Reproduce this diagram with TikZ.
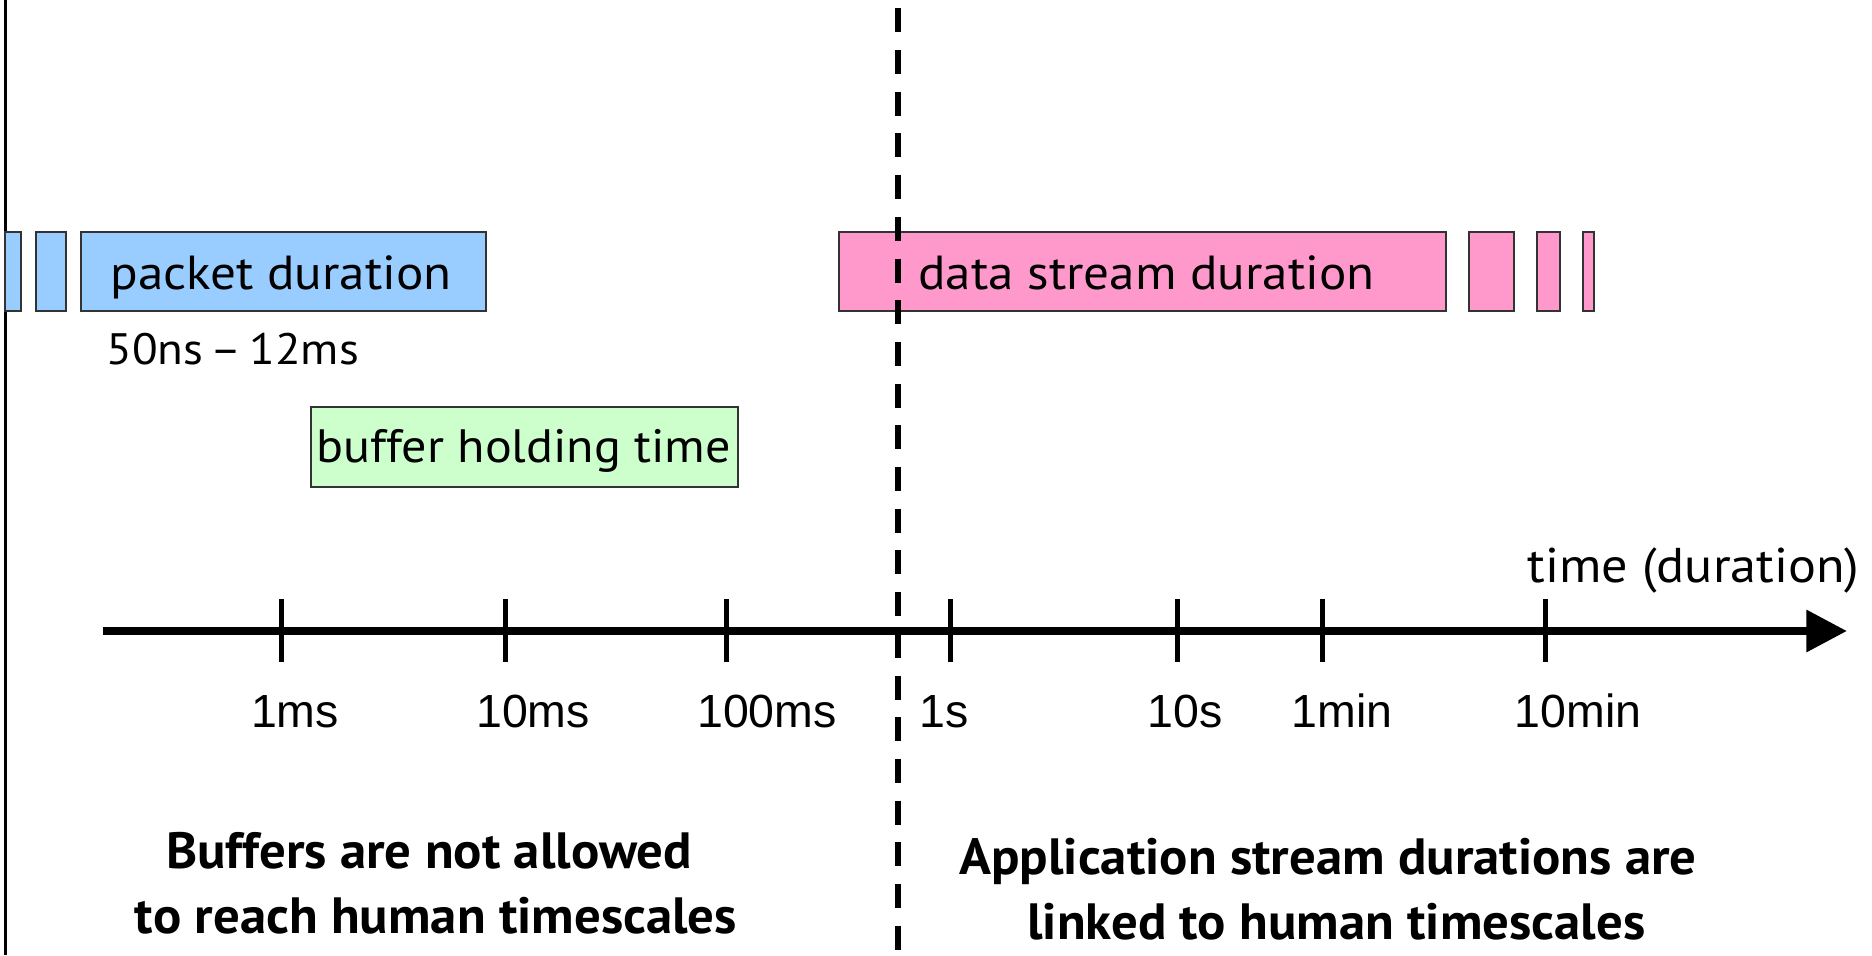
\documentclass[tikz,border=0pt]{standalone}
\usepackage{fontspec}
\setmainfont{PT Sans}[FakeStretch=1.07]
\newfontfamily\notefont{PT Sans}[FakeStretch=1.035]
\newfontfamily\tickfont{Liberation Sans}
\usetikzlibrary{arrows.meta,fit}
\definecolor{pktblue}{HTML}{99CCFF}
\definecolor{strpink}{HTML}{FF99CC}
\definecolor{bufgreen}{HTML}{CCFFCC}
\definecolor{edgegray}{HTML}{333333}
\begin{document}
\begin{tikzpicture}[x=0.5pt,y=-0.5pt,
  bar/.style={draw=edgegray, line width=1pt, inner sep=0pt},
  boxlbl/.style={inner sep=0pt, anchor=base west, font=\fontsize{23.9}{28}\selectfont},
  ticklbl/.style={inner sep=0pt, anchor=base, font=\tickfont\fontsize{23.25}{28}\selectfont},
  note/.style={inner sep=0pt, anchor=north, align=center, font=\notefont\bfseries\fontsize{25.5}{32.3}\selectfont},
  tickmark/.style={line width=2.5pt},
]
\useasboundingbox (0,0) rectangle (1872,955);

% left border rule
\coordinate (rtop) at (5,0);
\coordinate (rbot) at (5,955);
\draw[line width=1.5pt] (rtop) -- (rbot);

% packet bars
\node[bar, fill=pktblue, fit={(5,232) (21,311)}] (pk1) {};
\node[bar, fill=pktblue, fit={(36,232) (66,311)}] (pk2) {};
\node[bar, fill=pktblue, fit={(81,232) (486,311)}] (pk3) {};
\node[boxlbl] (pktlbl) at (110,289) {packet duration};
\node[boxlbl, font=\fontsize{22}{26}\selectfont] (rangelbl) at (106,364) {50ns\kern-2.5pt{} – \kern-2.5pt12ms};

% buffer bar
\node[bar, fill=bufgreen, fit={(311,407) (738,487)}] (buf) {};
\node[boxlbl, font=\fontsize{23.4}{28}\selectfont] (buflbl) at (316,462) {buffer holding time};

% data stream bars
\node[bar, fill=strpink, fit={(839,232) (1446,311)}] (st1) {};
\node[bar, fill=strpink, fit={(1469,232) (1514,311)}] (st2) {};
\node[bar, fill=strpink, fit={(1537,232) (1560,311)}] (st3) {};
\node[bar, fill=strpink, fit={(1583,232) (1594,311)}] (st4) {};
\node[boxlbl] (stlbl) at (918,289) {data stream duration};

% time axis
\coordinate (axstart) at (103,631);
\coordinate (axend) at (1847,631);
\draw[line width=4.15pt, -{Triangle[length=20.3pt,width=20.15pt]}] (axstart) -- (axend);
\node[inner sep=0pt, anchor=base east, font=\fontsize{24.4}{28}\selectfont] (timelbl) at (1860,582) {time (duration)};

% ticks and their labels
\foreach \tx/\lx/\txt/\nm in {281/295/1ms/a, 505/533/10ms/b, 726/767/100ms/c, 950/944/1s/d, 1177/1185/10s/e, 1322/1342/1min/f, 1545/1578/10min/g}{
  \coordinate (t\nm top) at (\tx,599);
  \coordinate (t\nm bot) at (\tx,662);
  \draw[tickmark] (t\nm top) -- (t\nm bot);
  \node[ticklbl] (l\nm) at (\lx,727) {\txt};
}

% human timescale boundary
\coordinate (btop) at (898,8.3);
\coordinate (bbot) at (898,955);
\draw[line width=3pt, dash pattern=on 12pt off 8.85pt] (btop) -- (bbot);

% captions
\node[note] (leftnote) at (429,832) {Buffers are not allowed\\\hspace*{7pt}to reach human timescales};
\node[note] (rightnote) at (1328,838) {Application stream durations are\\\hspace*{8.4pt}linked to human timescales};
\end{tikzpicture}
\end{document}
